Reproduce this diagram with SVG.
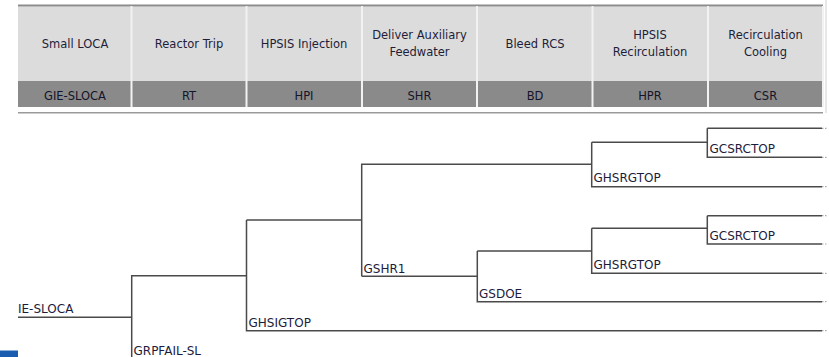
<svg xmlns="http://www.w3.org/2000/svg" width="829" height="357" viewBox="0 0 829 357">
<style>
.hdr{font-family:"DejaVu Sans",Verdana,sans-serif;font-size:11.5px;fill:#1e1e3a;text-anchor:middle}
.code{font-family:"DejaVu Sans",Verdana,sans-serif;font-size:11.5px;fill:#14142a;text-anchor:middle}
.lbl{font-family:"DejaVu Sans",Verdana,sans-serif;font-size:12px;fill:#1c1c3c}
.sep{stroke:#f2f2f2;stroke-width:2}
.br{fill:none;stroke:#4a4a4a;stroke-width:1.5}
.tail{stroke:#aaaaaa;stroke-width:1.2;stroke-dasharray:1.5 1.5}
</style>
<rect width="829" height="357" fill="#ffffff"/>
<rect x="0" y="350.5" width="18" height="6.5" fill="#1a5db0"/>
<g id="header">
<rect x="18" y="6.5" width="805" height="74.5" fill="#dcdcdc"/>
<rect x="18" y="81" width="805" height="26" fill="#8a8a8a"/>
<line x1="18" y1="5.5" x2="823" y2="5.5" stroke="#8c8c8c" stroke-width="2"/>
<line x1="18" y1="112.8" x2="823" y2="112.8" stroke="#9a9a9a" stroke-width="1.5"/>
<line x1="826" y1="0" x2="826" y2="113" stroke="#d0d0d0" stroke-width="1"/>
<g class="sep">
<line x1="131.5" y1="6" x2="131.5" y2="107"/>
<line x1="246.5" y1="6" x2="246.5" y2="107"/>
<line x1="362" y1="6" x2="362" y2="107"/>
<line x1="477" y1="6" x2="477" y2="107"/>
<line x1="592.5" y1="6" x2="592.5" y2="107"/>
<line x1="708" y1="6" x2="708" y2="107"/>
<line x1="823" y1="6" x2="823" y2="107"/>
</g>
<text class="hdr" x="75" y="48">Small LOCA</text>
<text class="hdr" x="189" y="48">Reactor Trip</text>
<text class="hdr" x="304" y="48">HPSIS Injection</text>
<text class="hdr" x="419.5" y="39">Deliver Auxiliary</text>
<text class="hdr" x="419.5" y="56">Feedwater</text>
<text class="hdr" x="535" y="48">Bleed RCS</text>
<text class="hdr" x="650" y="39">HPSIS</text>
<text class="hdr" x="650" y="56">Recirculation</text>
<text class="hdr" x="765.5" y="39">Recirculation</text>
<text class="hdr" x="765.5" y="56">Cooling</text>
<text class="code" x="75" y="100">GIE-SLOCA</text>
<text class="code" x="189" y="100">RT</text>
<text class="code" x="304" y="100">HPI</text>
<text class="code" x="419.5" y="100">SHR</text>
<text class="code" x="535" y="100">BD</text>
<text class="code" x="650" y="100">HPR</text>
<text class="code" x="765.5" y="100">CSR</text>
</g>
<g id="connectors">
<path class="br" d="M18,317.3 H131.7"/>
<path class="br" d="M131.7,357 V275.7 H246.5"/>
<path class="br" d="M246.5,220 V330.7 H822"/>
<path class="br" d="M246.5,220 H361.7"/>
<path class="br" d="M361.7,276.3 V164.3 H591.7"/>
<path class="br" d="M361.7,276.3 H477.3"/>
<path class="br" d="M591.7,142.3 V186.7 H822"/>
<path class="br" d="M591.7,142.3 H707.3"/>
<path class="br" d="M707.3,128.3 V157.3 H822"/>
<path class="br" d="M707.3,128.3 H822"/>
<path class="br" d="M477.3,251 V301.7 H822"/>
<path class="br" d="M477.3,251 H591.7"/>
<path class="br" d="M591.7,228.3 V273.3 H822"/>
<path class="br" d="M591.7,228.3 H707.3"/>
<path class="br" d="M707.3,215.7 V244 H822"/>
<path class="br" d="M707.3,215.7 H822"/>
<g class="tail">
<line x1="822" y1="128.3" x2="827" y2="128.3"/>
<line x1="822" y1="157.3" x2="827" y2="157.3"/>
<line x1="822" y1="186.7" x2="827" y2="186.7"/>
<line x1="822" y1="215.7" x2="827" y2="215.7"/>
<line x1="822" y1="244" x2="827" y2="244"/>
<line x1="822" y1="273.3" x2="827" y2="273.3"/>
<line x1="822" y1="301.7" x2="827" y2="301.7"/>
<line x1="822" y1="330.7" x2="827" y2="330.7"/>
</g>
</g>
<g id="n-ie-sloca"><text class="lbl" x="18" y="313.3">IE-SLOCA</text></g>
<g id="n-grpfail-sl"><text class="lbl" x="133.5" y="354.5">GRPFAIL-SL</text></g>
<g id="n-ghsigtop"><text class="lbl" x="248.5" y="326.5">GHSIGTOP</text></g>
<g id="n-gshr1"><text class="lbl" x="363.5" y="272.5">GSHR1</text></g>
<g id="n-gsdoe"><text class="lbl" x="479" y="297.5">GSDOE</text></g>
<g id="n-ghsrgtop-1"><text class="lbl" x="593.5" y="182">GHSRGTOP</text></g>
<g id="n-gcsrctop-1"><text class="lbl" x="709.5" y="153.3">GCSRCTOP</text></g>
<g id="n-ghsrgtop-2"><text class="lbl" x="593.5" y="268.8">GHSRGTOP</text></g>
<g id="n-gcsrctop-2"><text class="lbl" x="709.5" y="240">GCSRCTOP</text></g>
</svg>
